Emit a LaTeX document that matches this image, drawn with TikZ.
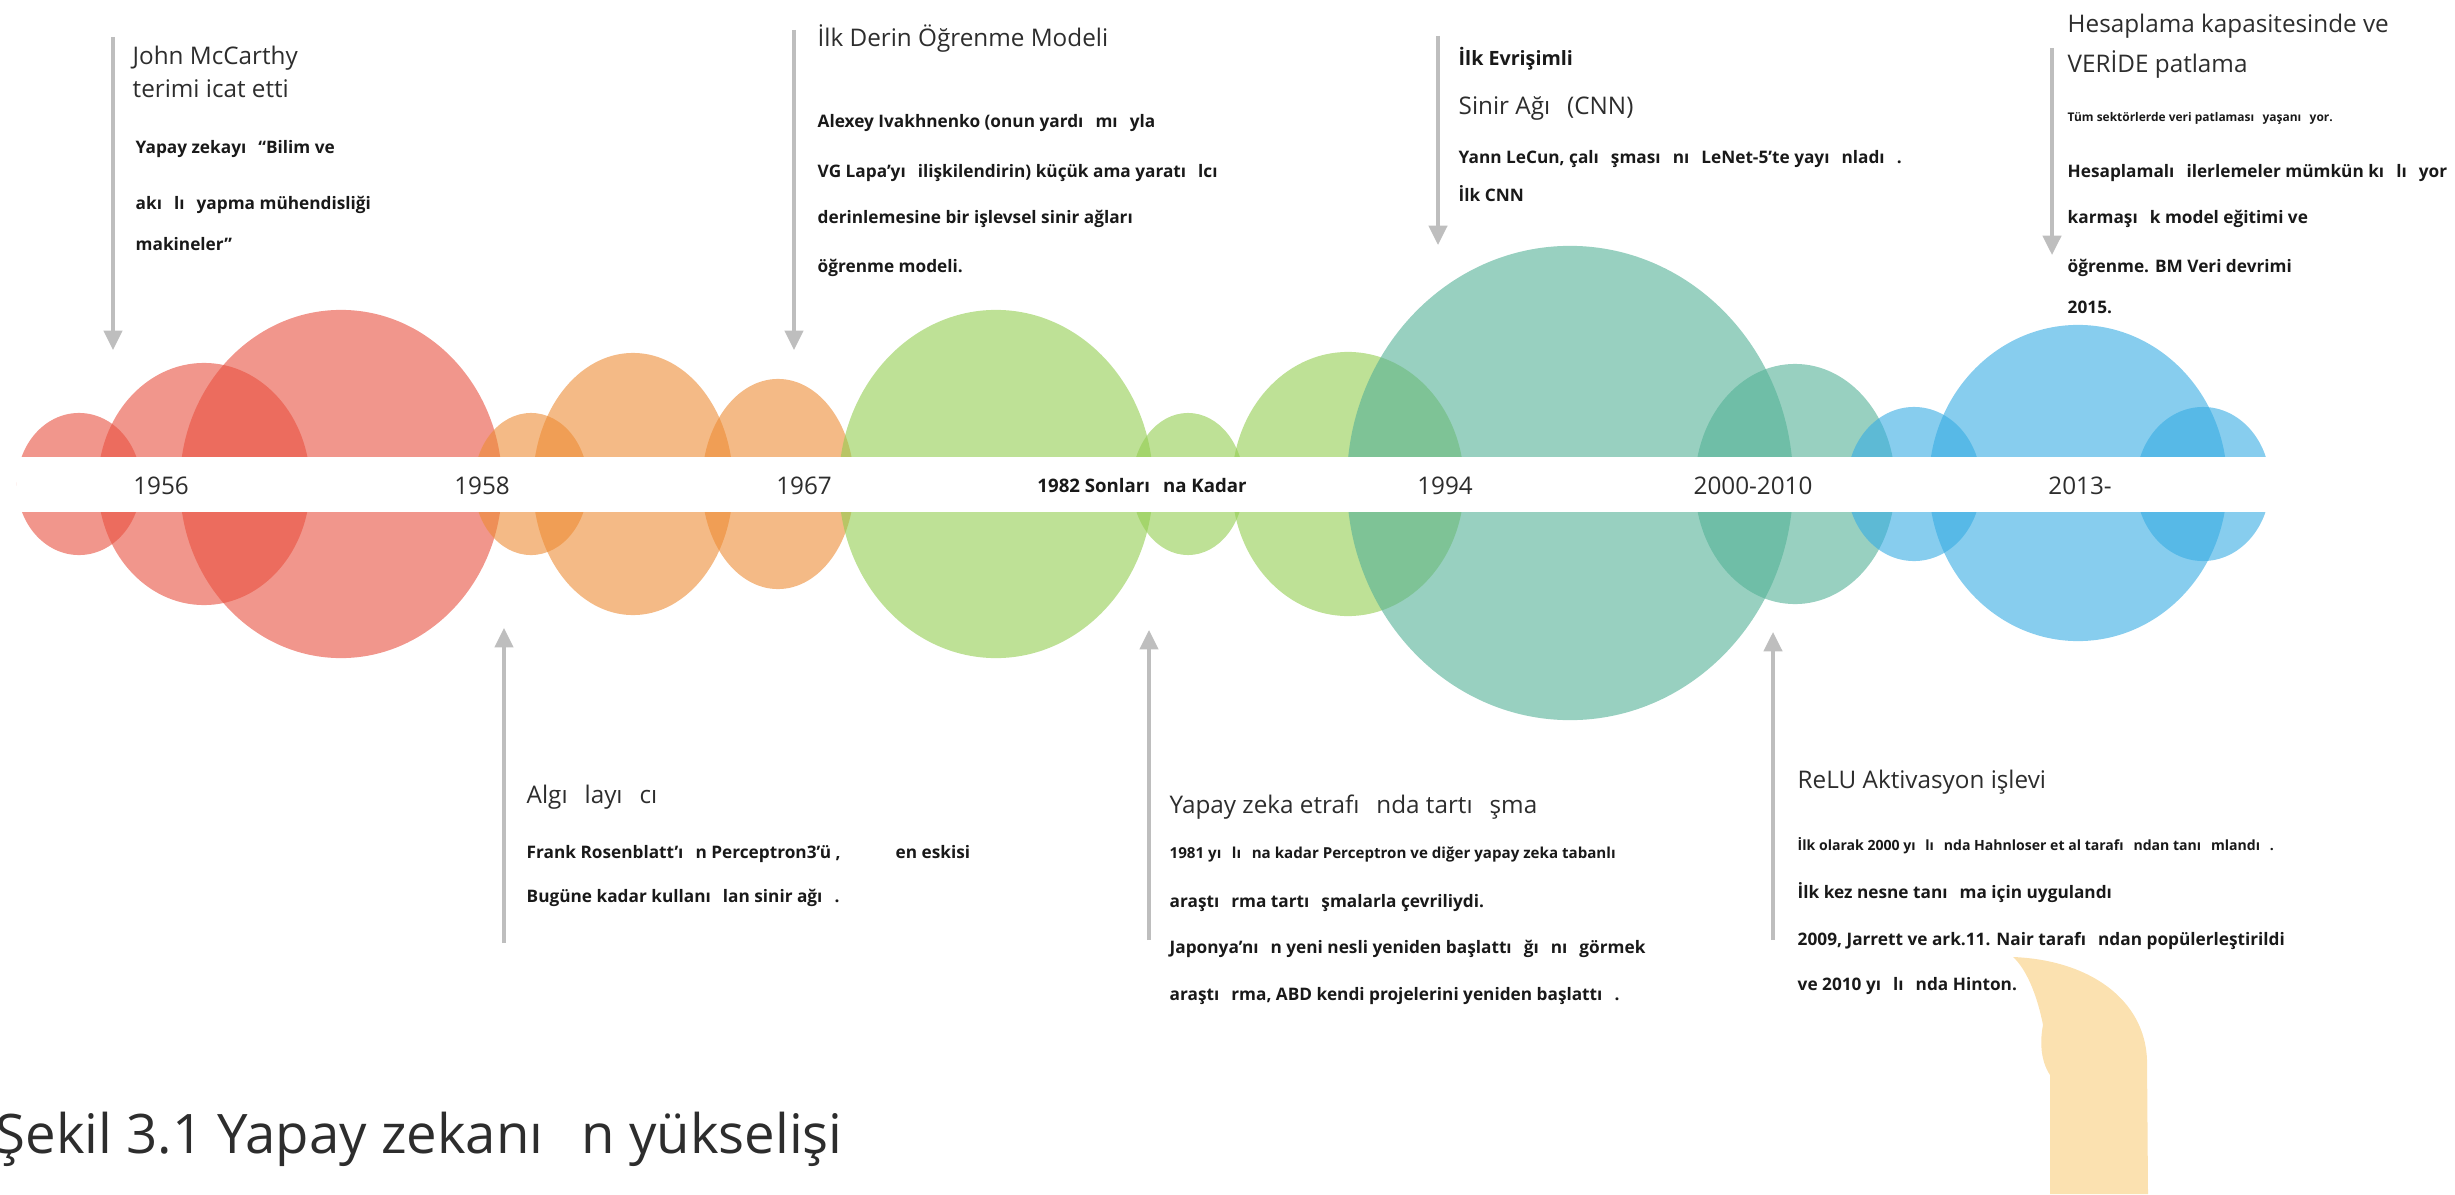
\documentclass[tikz,border=0pt]{standalone}
\usepackage{fontspec}
\setmainfont{Open Sans}
\usetikzlibrary{arrows.meta}

\definecolor{redc}{RGB}{232,80,63}
\definecolor{orangec}{RGB}{237,140,53}
\definecolor{greenc}{RGB}{147,205,80}
\definecolor{tealc}{RGB}{83,177,150}
\definecolor{bluec}{RGB}{55,172,227}
\definecolor{sandc}{RGB}{251,225,176}
\definecolor{guidec}{RGB}{190,190,190}
\definecolor{headc}{RGB}{45,45,45}
\definecolor{notec}{RGB}{25,25,25}

\newcommand{\gp}{\hspace*{0.7em}}

\tikzset{
  bubble/.style={fill=#1, fill opacity=0.6},
  guide/.style={draw=guidec, line width=1pt, -{Triangle[width=5.2pt,length=5.5pt]}},
  head/.style={anchor=base west, inner sep=0pt, text=headc, font=\fontsize{6.9}{8}\selectfont},
  note/.style={anchor=base west, inner sep=0pt, text=notec, font=\bfseries\fontsize{4.9}{5.5}\selectfont},
  fine/.style={anchor=base west, inner sep=0pt, text=notec, font=\bfseries\fontsize{4.3}{5}\selectfont},
  tiny/.style={anchor=base west, inner sep=0pt, text=notec, font=\bfseries\fontsize{3.4}{4}\selectfont},
  year/.style={anchor=base, inner sep=0pt, text=headc, font=\fontsize{6.9}{8}\selectfont},
}

\begin{document}
\begin{tikzpicture}[x=0.01cm, y=-0.01cm]
\useasboundingbox (0,0) rectangle (2455,1194);

% bubbles along the time line
\fill[bubble=redc] (79,484) ellipse [x radius=0.62cm, y radius=0.71cm];
\fill[bubble=redc] (204,484) ellipse [x radius=1.06cm, y radius=1.21cm];
\fill[bubble=redc] (341,484) ellipse [x radius=1.61cm, y radius=1.74cm];
\fill[bubble=orangec] (531,484) ellipse [x radius=0.57cm, y radius=0.71cm];
\fill[bubble=orangec] (633,484) ellipse [x radius=1.00cm, y radius=1.31cm];
\fill[bubble=orangec] (778,484) ellipse [x radius=0.76cm, y radius=1.05cm];
\fill[bubble=greenc] (996,484) ellipse [x radius=1.57cm, y radius=1.74cm];
\fill[bubble=greenc] (1188,484) ellipse [x radius=0.56cm, y radius=0.71cm];
\fill[bubble=greenc] (1348,484) ellipse [x radius=1.16cm, y radius=1.32cm];
\fill[bubble=tealc] (1570,483) ellipse [x radius=2.23cm, y radius=2.37cm];
\fill[bubble=tealc] (1795,484) ellipse [x radius=1.00cm, y radius=1.20cm];
\fill[bubble=bluec] (1914,484) ellipse [x radius=0.67cm, y radius=0.77cm];
\fill[bubble=bluec] (2078,483) ellipse [x radius=1.49cm, y radius=1.58cm];
\fill[bubble=bluec] (2203,484) ellipse [x radius=0.67cm, y radius=0.77cm];

% white band
\fill[white] (17,457) rectangle (2273,512);

% years on the band
\node[year] (y1956) at (161,494) {1956};
\node[year] (y1958) at (482,494) {1958};
\node[year] (y1967) at (804,494) {1967};
\node[anchor=base, inner sep=0pt, text=notec, font=\bfseries\fontsize{5.3}{6}\selectfont] (y1982) at (1142,492) {1982 Sonları\gp na Kadar};
\node[year] (y1994) at (1445,494) {1994};
\node[year] (y2000) at (1753,494) {2000-2010};
\node[year] (y2013) at (2080,494) {2013-};

% guide arrows
\coordinate (g1a) at (113,37);   \coordinate (g1b) at (113,350);
\coordinate (g2a) at (794,30);   \coordinate (g2b) at (794,350);
\coordinate (g3a) at (1438,36);  \coordinate (g3b) at (1438,245);
\coordinate (g4a) at (2052,48);  \coordinate (g4b) at (2052,255);
\coordinate (g5a) at (504,943);  \coordinate (g5b) at (504,628);
\coordinate (g6a) at (1149,940); \coordinate (g6b) at (1149,630);
\coordinate (g7a) at (1773,940); \coordinate (g7b) at (1773,632);
\draw[guide] (g1a) -- (g1b);
\draw[guide] (g2a) -- (g2b);
\draw[guide] (g3a) -- (g3b);
\draw[guide] (g4a) -- (g4b);
\draw[guide] (g5a) -- (g5b);
\draw[guide] (g6a) -- (g6b);
\draw[guide] (g7a) -- (g7b);

% 1956
\node[head] (t1a) at (132,65) {John McCarthy};
\node[head] (t1b) at (132,98) {terimi icat etti};
\node[note] (t1c) at (135,154) {Yapay zekayı\gp “Bilim ve};
\node[note] (t1d) at (135,209) {akı\gp lı\gp yapma mühendisliği};
\node[note] (t1e) at (135,250) {makineler”};

% 1967
\node[head] (t2a) at (817,47) {İlk Derin Öğrenme Modeli};
\node[note] (t2b) at (817,128) {Alexey Ivakhnenko (onun yardı\gp mı\gp yla};
\node[note] (t2c) at (817,177) {VG Lapa'yı\gp ilişkilendirin) küçük ama yaratı\gp lcı};
\node[note] (t2d) at (817,224) {derinlemesine bir işlevsel sinir ağları};
\node[note] (t2e) at (817,272) {öğrenme modeli.};

% 1994
\node[anchor=base west, inner sep=0pt, text=notec, font=\bfseries\fontsize{5.6}{6.5}\selectfont] (t3a) at (1458,66) {İlk Evrişimli};
\node[head] (t3b) at (1458,115) {Sinir Ağı\gp (CNN)};
\node[note] (t3c) at (1458,163) {Yann LeCun, çalı\gp şması\gp nı\gp LeNet-5'te yayı\gp nladı\gp .};
\node[note] (t3d) at (1458,202) {İlk CNN};

% 2013-
\node[head] (t4a) at (2067,33) {Hesaplama kapasitesinde ve};
\node[head] (t4b) at (2067,73) {VERİDE patlama};
\node[tiny] (t4c) at (2067,122) {Tüm sektörlerde veri patlaması\gp yaşanı\gp yor.};
\node[note] (t4d) at (2067,177) {Hesaplamalı\gp ilerlemeler mümkün kı\gp lı\gp yor};
\node[note] (t4e) at (2067,223) {karmaşı\gp k model eğitimi ve};
\node[note] (t4f) at (2067,272) {öğrenme. BM Veri devrimi};
\node[note] (t4g) at (2067,313) {2015.};

% 1958
\node[head] (b1a) at (526,803) {Algı\gp layı\gp cı};
\node[note] (b1b) at (526,858) {Frank Rosenblatt'ı\gp n Perceptron3'ü ,};
\node[note] (b1c) at (895,858) {en eskisi};
\node[note] (b1d) at (526,902) {Bugüne kadar kullanı\gp lan sinir ağı\gp .};

% 1982
\node[head] (b2a) at (1169,813) {Yapay zeka etrafı\gp nda tartı\gp şma};
\node[fine] (b2b) at (1169,858) {1981 yı\gp lı\gp na kadar Perceptron ve diğer yapay zeka tabanlı};
\node[note] (b2c) at (1169,907) {araştı\gp rma tartı\gp şmalarla çevriliydi.};
\node[note] (b2d) at (1169,953) {Japonya'nı\gp n yeni nesli yeniden başlattı\gp ğı\gp nı\gp görmek};
\node[note] (b2e) at (1169,1000) {araştı\gp rma, ABD kendi projelerini yeniden başlattı\gp .};

% 2000-2010
\node[head] (b3a) at (1797,788) {ReLU Aktivasyon işlevi};
\node[anchor=base west, inner sep=0pt, text=notec, font=\bfseries\fontsize{4.0}{4.5}\selectfont] (b3b) at (1797,850) {İlk olarak 2000 yı\gp lı\gp nda Hahnloser et al tarafı\gp ndan tanı\gp mlandı\gp .};
\node[note] (b3c) at (1797,898) {İlk kez nesne tanı\gp ma için uygulandı};
\node[note] (b3d) at (1797,945) {2009, Jarrett ve ark.11. Nair tarafı\gp ndan popülerleştirildi};
\node[note] (b3e) at (1797,990) {ve 2010 yı\gp lı\gp nda Hinton.};

% pale sand shape
\fill[sandc] (2013,957) .. controls (2090,960) and (2145,1000) .. (2147,1060)
  -- (2148,1194) -- (2050,1194) -- (2050,1075)
  .. controls (2040,1060) and (2040,1040) .. (2043,1025)
  .. controls (2035,985) and (2022,965) .. (2013,957) -- cycle;

% caption
\node[anchor=base west, inner sep=0pt, text=headc, font=\fontsize{15.5}{17}\selectfont] (cap) at (-5,1153) {Şekil 3.1 Yapay zekanı\gp n yükselişi};
\end{tikzpicture}
\end{document}
